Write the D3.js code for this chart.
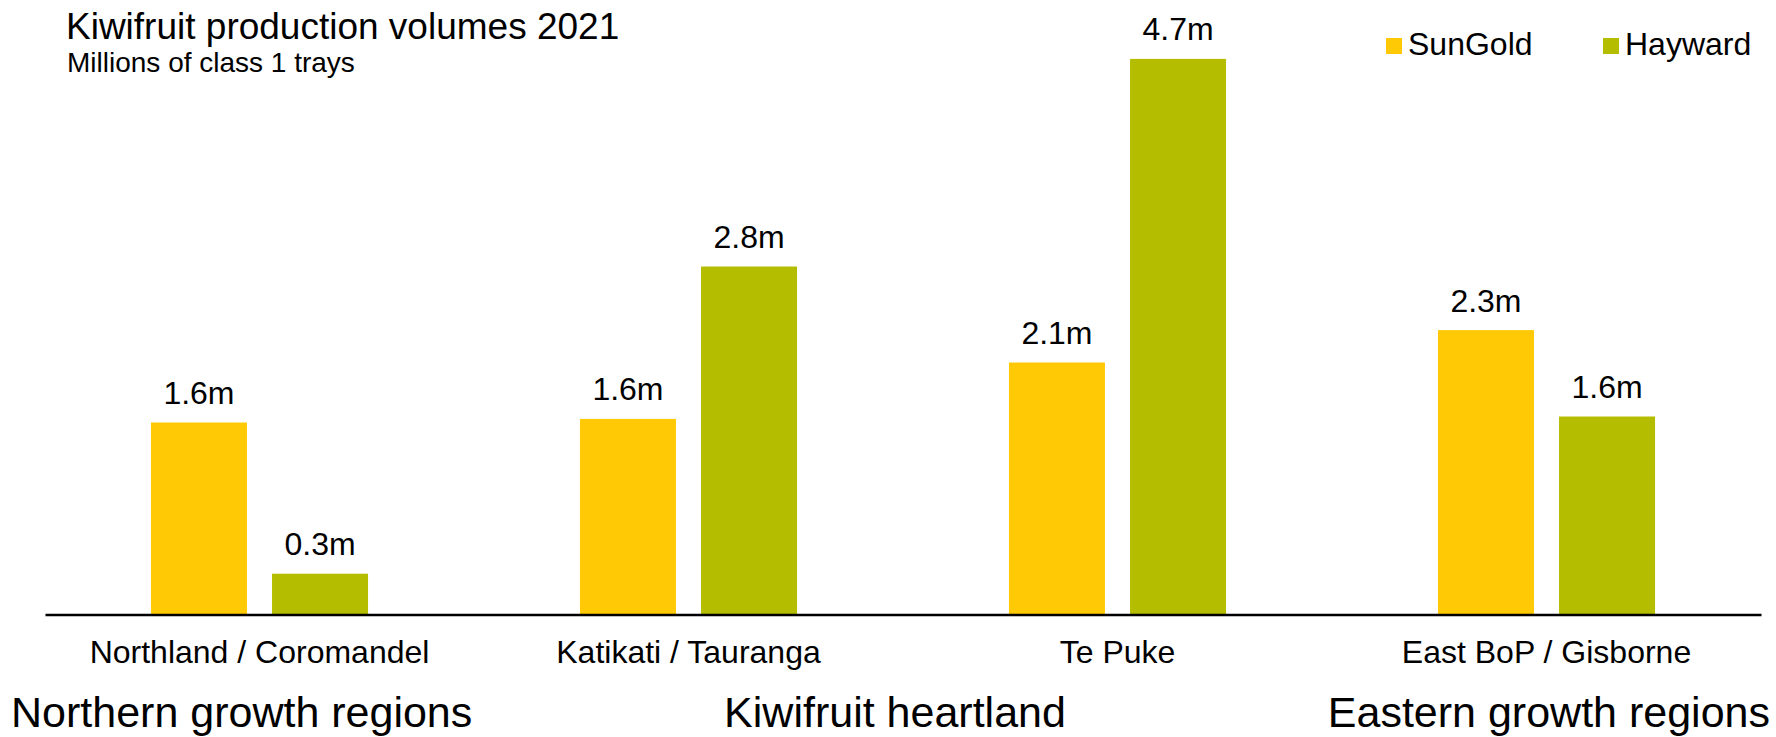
<!DOCTYPE html>
<html>
<head>
<meta charset="utf-8">
<script src="https://cdn.jsdelivr.net/npm/d3@7"></script>
<style>
  body { margin: 0; background: #fff; }
  svg { display: block; font-family: "Liberation Sans", Arial, sans-serif; }
</style>
</head>
<body>
<svg id="chart"></svg>
<script>
"use strict";

var svg_width = 1776;
var svg_height = 737;

// data
var regions = ["Northland / Coromandel", "Katikati / Tauranga", "Te Puke", "East BoP / Gisborne"];
var varieties = ["SunGold", "Hayward"];
var sungold = [1.60, 1.63, 2.10, 2.37];
var hayward = [0.34, 2.90, 4.63, 1.65];
var sungoldLabels = ["1.6m", "1.6m", "2.1m", "2.3m"];
var haywardLabels = ["0.3m", "2.8m", "4.7m", "1.6m"];
var groupNames = ["Northern growth regions", "Kiwifruit heartland", "Eastern growth regions"];

var colors = {SunGold: "#FFCA05", Hayward: "#B5BD00"};

var data = regions.map(function(r, i) {
    return {
        region: r,
        bars: [
            {key: "SunGold", value: sungold[i], label: sungoldLabels[i]},
            {key: "Hayward", value: hayward[i], label: haywardLabels[i]}
        ]
    };
});

var svg = d3.select("#chart")
    .attr("width", svg_width)
    .attr("height", svg_height);

var xLeft = 45, xRight = 1761;
var baseline = 614.5;

var x0 = d3.scaleBand()
    .domain(regions)
    .range([xLeft, xRight])
    .paddingInner(0.494)
    .paddingOuter(0.247);

var x1 = d3.scaleBand()
    .domain(varieties)
    .range([0, x0.bandwidth()])
    .paddingInner(0.207);

var yScale = d3.scaleLinear()
    .domain([0, 5])
    .range([baseline, baseline - 600]);

var groups = svg.selectAll(".group")
    .data(data)
    .enter()
    .append("g")
    .attr("class", "group")
    .attr("transform", function(d) {return "translate(" + x0(d.region) + ",0)";});

groups.selectAll("rect")
    .data(function(d) {return d.bars;})
    .enter()
    .append("rect")
    .attr("x", function(d) {return x1(d.key);})
    .attr("y", function(d) {return yScale(d.value);})
    .attr("width", x1.bandwidth())
    .attr("height", function(d) {return baseline - yScale(d.value);})
    .attr("fill", function(d) {return colors[d.key];});

groups.selectAll(".value-label")
    .data(function(d) {return d.bars;})
    .enter()
    .append("text")
    .attr("class", "value-label")
    .attr("text-anchor", "middle")
    .attr("x", function(d) {return x1(d.key) + x1.bandwidth()/2;})
    .attr("y", function(d) {return yScale(d.value) - 18.5;})
    .attr("font-size", 32)
    .attr("fill", "#000")
    .text(function(d) {return d.label;});

// x axis: line plus category labels, no ticks
var xAxis = svg.append("g")
    .attr("class", "axis axis--x")
    .attr("transform", "translate(0," + baseline + ")")
    .call(d3.axisBottom(x0).tickSize(0).tickSizeOuter(0).tickPadding(0));
xAxis.select(".domain")
    .attr("stroke", "#000")
    .attr("stroke-width", 2.5);
xAxis.selectAll(".tick text")
    .attr("dy", null)
    .attr("y", 48)
    .attr("font-size", 32)
    .attr("font-family", "\"Liberation Sans\", Arial, sans-serif")
    .attr("fill", "#000");

// region group labels
var mid = (x0(regions[1]) + x0(regions[2]) + x0.bandwidth()) / 2 - 8;
var groupPos = [
    {x: 11, anchor: "start"},
    {x: mid, anchor: "middle"},
    {x: 1770, anchor: "end"}
];
svg.selectAll(".group-label")
    .data(groupNames)
    .enter()
    .append("text")
    .attr("class", "group-label")
    .attr("x", function(d, i) {return groupPos[i].x;})
    .attr("y", 726.5)
    .attr("text-anchor", function(d, i) {return groupPos[i].anchor;})
    .attr("font-size", 43)
    .attr("fill", "#000")
    .text(function(d) {return d;});

// title
svg.append("text")
    .attr("x", 66)
    .attr("y", 39)
    .attr("font-size", 37)
    .attr("fill", "#000")
    .text("Kiwifruit production volumes 2021");
svg.append("text")
    .attr("x", 67)
    .attr("y", 71.5)
    .attr("font-size", 28)
    .attr("fill", "#000")
    .text("Millions of class 1 trays");

// legend
var legendX = [1386, 1603];
var legend = svg.selectAll(".legend")
    .data(varieties)
    .enter()
    .append("g")
    .attr("class", "legend")
    .attr("transform", function(d, i) {return "translate(" + legendX[i] + ",38)";});
legend.append("rect")
    .attr("width", 16)
    .attr("height", 16)
    .attr("fill", function(d) {return colors[d];});
legend.append("text")
    .attr("x", 22)
    .attr("y", 17)
    .attr("font-size", 32)
    .attr("fill", "#000")
    .text(function(d) {return d;});
</script>
</body>
</html>
